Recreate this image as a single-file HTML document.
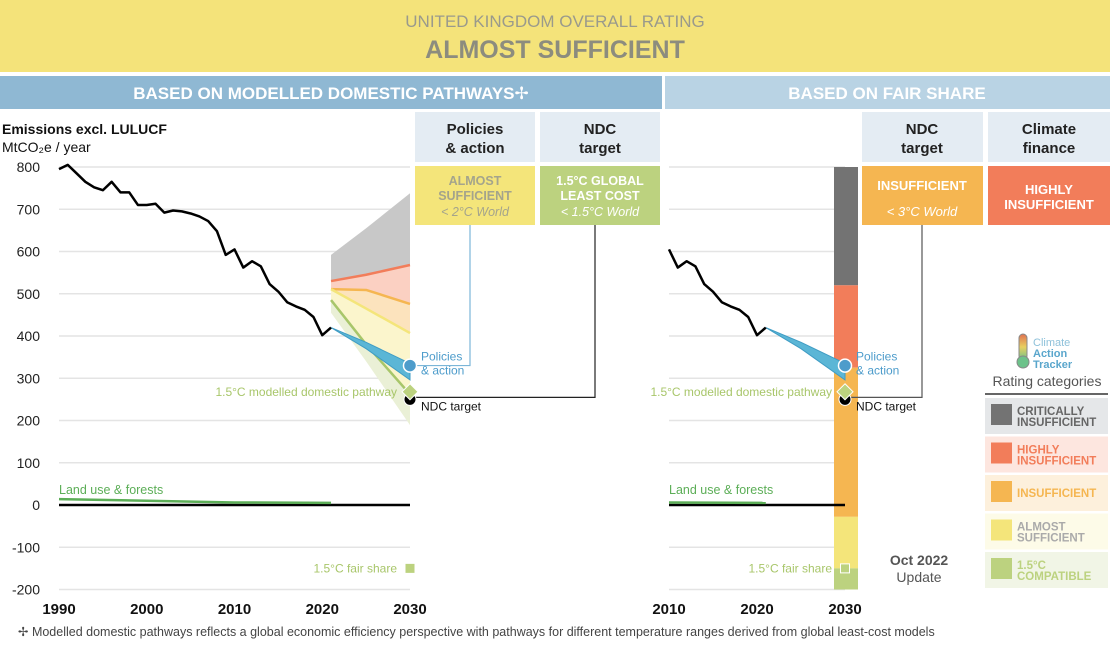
<!DOCTYPE html>
<html><head><meta charset="utf-8"><style>
body{margin:0;width:1110px;height:650px;overflow:hidden;background:#fff;font-family:"Liberation Sans","DejaVu Sans",sans-serif}
svg text{font-family:"Liberation Sans","DejaVu Sans",sans-serif}
</style></head><body>
<svg id="c" width="1110" height="650" xmlns="http://www.w3.org/2000/svg">
<rect x="0" y="0" width="1110" height="72" fill="#f4e37a"/>
<text x="555" y="27" text-anchor="middle" font-size="17" fill="#9a9a8c">UNITED KINGDOM OVERALL RATING</text>
<text x="555" y="58" text-anchor="middle" font-size="25" font-weight="bold" fill="#8c8c7e">ALMOST SUFFICIENT</text>
<rect x="0" y="76" width="662" height="33" fill="#8fb8d3"/>
<text x="331" y="99" text-anchor="middle" font-size="17" font-weight="bold" fill="#fff">BASED ON MODELLED DOMESTIC PATHWAYS✢</text>
<rect x="665" y="76" width="445" height="33" fill="#b9d3e4"/>
<text x="887" y="99" text-anchor="middle" font-size="17" font-weight="bold" fill="#fff">BASED ON FAIR SHARE</text>

<text x="2" y="134" font-size="14" font-weight="bold" fill="#111">Emissions excl. LULUCF</text>
<text x="2" y="152" font-size="14" fill="#111">MtCO₂e / year</text>

<g id="grid"></g><g id="ylab"></g><g id="xlab"></g>
<g id="fills"></g><g id="lines"></g>

<rect x="415" y="112" width="120" height="50" fill="#e4ecf3"/>
<text x="475" y="134" text-anchor="middle" font-size="15" font-weight="bold" fill="#222">Policies</text>
<text x="475" y="153" text-anchor="middle" font-size="15" font-weight="bold" fill="#222">&amp; action</text>
<rect x="415" y="166" width="120" height="59" fill="#f4e57a"/>
<text x="475" y="185" text-anchor="middle" font-size="12.5" font-weight="bold" fill="#a4a48c">ALMOST</text>
<text x="475" y="200" text-anchor="middle" font-size="12.5" font-weight="bold" fill="#a4a48c">SUFFICIENT</text>
<text x="475" y="216" text-anchor="middle" font-size="12.5" font-style="italic" fill="#a4a48c">&lt; 2°C World</text>
<rect x="540" y="112" width="120" height="50" fill="#e4ecf3"/>
<text x="600" y="134" text-anchor="middle" font-size="15" font-weight="bold" fill="#222">NDC</text>
<text x="600" y="153" text-anchor="middle" font-size="15" font-weight="bold" fill="#222">target</text>
<rect x="540" y="166" width="120" height="59" fill="#bcd27f"/>
<text x="600" y="185" text-anchor="middle" font-size="12.5" font-weight="bold" fill="#fff">1.5°C GLOBAL</text>
<text x="600" y="200" text-anchor="middle" font-size="12.5" font-weight="bold" fill="#fff">LEAST COST</text>
<text x="600" y="216" text-anchor="middle" font-size="12.5" font-style="italic" fill="#fff">&lt; 1.5°C World</text>
<rect x="862" y="112" width="121" height="50" fill="#e4ecf3"/>
<text x="922" y="134" text-anchor="middle" font-size="15" font-weight="bold" fill="#222">NDC</text>
<text x="922" y="153" text-anchor="middle" font-size="15" font-weight="bold" fill="#222">target</text>
<rect x="862" y="166" width="121" height="59" fill="#f5b651"/>
<text x="922" y="190" text-anchor="middle" font-size="13" font-weight="bold" fill="#fff">INSUFFICIENT</text>
<text x="922" y="216" text-anchor="middle" font-size="13" font-style="italic" fill="#fff">&lt; 3°C World</text>
<rect x="988" y="112" width="122" height="50" fill="#e4ecf3"/>
<text x="1049" y="134" text-anchor="middle" font-size="15" font-weight="bold" fill="#222">Climate</text>
<text x="1049" y="153" text-anchor="middle" font-size="15" font-weight="bold" fill="#222">finance</text>
<rect x="988" y="166" width="122" height="59" fill="#f27d5a"/>
<text x="1049" y="194" text-anchor="middle" font-size="13" font-weight="bold" fill="#fff">HIGHLY</text>
<text x="1049" y="209" text-anchor="middle" font-size="13" font-weight="bold" fill="#fff">INSUFFICIENT</text>

<g>
<defs><linearGradient id="tg" x1="0" y1="0" x2="0" y2="1"><stop offset="0" stop-color="#e07050"/><stop offset="0.5" stop-color="#e8d060"/><stop offset="1" stop-color="#6cc28a"/></linearGradient></defs>
<rect x="1019" y="334" width="8" height="26" rx="4" fill="url(#tg)" stroke="#888" stroke-width="1"/>
<circle cx="1023" cy="362" r="6" fill="#6cc28a" stroke="#888" stroke-width="1"/>
<text x="1033" y="346" font-size="11" fill="#8ec1da">Climate</text>
<text x="1033" y="357" font-size="11" font-weight="bold" fill="#5aa6cc">Action</text>
<text x="1033" y="368" font-size="11" font-weight="bold" fill="#5aa6cc">Tracker</text>
</g>
<text x="1047" y="386" text-anchor="middle" font-size="14" fill="#555">Rating categories</text>
<rect x="985" y="393" width="123" height="2" fill="#666"/>
<g id="legend"></g>

<text x="919" y="565" text-anchor="middle" font-size="14" font-weight="bold" fill="#555">Oct 2022</text>
<text x="919" y="582" text-anchor="middle" font-size="14" fill="#555">Update</text>
<text x="18" y="636" font-size="12.5" fill="#444">✢  Modelled domestic pathways reflects a global economic efficiency perspective with pathways for different temperature ranges derived from global least-cost models</text>
</svg>
<script>
const years=[1990,1991,1992,1993,1994,1995,1996,1997,1998,1999,2000,2001,2002,2003,2004,2005,2006,2007,2008,2009,2010,2011,2012,2013,2014,2015,2016,2017,2018,2019,2020,2021];
const emissions=[795,805,785,765,752,745,765,740,740,710,710,713,692,697,695,690,683,672,648,592,605,562,577,565,523,505,480,470,462,445,402,420];
const lulucfYears=[1990,2000,2010,2021];
const lulucf=[14,10,6,5];
const projYears=[2021,2025,2030];
const polUpper=[420,385,335];
const polLower=[420,370,296];
const grayTop=[592,655,738];
const redLine=[530,545,568];
const orangeLine=[511,509,476];
const yellowLine=[511,465,407];
const greenLine=[485,380,262];
const greenLower=[455,340,189];
const fairBands=[[800,520,'#737373'],[520,325,'#f27d5a'],[325,-28,'#f5b651'],[-28,-150,'#f4e57a'],[-150,-200,'#bcd27f']];
const yTicks=[800,700,600,500,400,300,200,100,0,-100,-200];
const leftXTicks=[1990,2000,2010,2020,2030];
const rightXTicks=[2010,2020,2030];
const ndc2030=250, pol2030=330, pathway2030=268, fairShare2030=-150;

const NS='http://www.w3.org/2000/svg';
const y=v=>505-v*0.4225;
const xL=t=>59+(t-1990)*8.775;
const xR=t=>669+(t-2010)*8.8;
function el(tag,attrs,parent,text){const e=document.createElementNS(NS,tag);for(const k in attrs)e.setAttribute(k,attrs[k]);if(text!==undefined)e.textContent=text;document.getElementById(parent).appendChild(e);return e;}
yTicks.forEach(v=>{
 let g=el('line',{x1:59,x2:410,y1:y(v),y2:y(v),stroke:'#e4e4e4','stroke-width':1.5},'grid');
 
 
 let g2=el('line',{x1:669,x2:845,y1:y(v),y2:y(v),stroke:'#e4e4e4','stroke-width':1.5},'grid');
 
 
 let t=el('text',{x:40,y:y(v)+5,'text-anchor':'end','font-size':14,fill:'#222'},'ylab',v);
 
 
});
leftXTicks.forEach(v=>{let t=el('text',{x:xL(v),y:614,'text-anchor':'middle','font-size':15,'font-weight':'bold',fill:'#111'},'xlab',v);
 
 });
rightXTicks.forEach(v=>{let t=el('text',{x:xR(v),y:614,'text-anchor':'middle','font-size':15,'font-weight':'bold',fill:'#111'},'xlab',v);
 
 });
fairBands.forEach(b=>{let r=el('rect',{x:834,y:y(b[0]),width:24,height:y(b[1])-y(b[0]),fill:b[2]},'fills');
 
 });
function area(up,lo,fill,name){const pts=projYears.map((t,i)=>xL(t)+','+y(up[i])).concat(projYears.map((t,i)=>xL(t)+','+y(lo[i])).reverse());
 let p=el('polygon',{points:pts.join(' '),fill:fill},'fills');
 
 }
area(grayTop,redLine,'#c8c8c8','critically-insufficient-range');
area(redLine,orangeLine,'#fbd0c2','highly-insufficient-range');
area(orangeLine,yellowLine,'#fce3bd','insufficient-range');
area(yellowLine,greenLine,'#fbf5cc','almost-sufficient-range');
area(greenLine,greenLower,'#eaf0d6','compatible-range');
function pline(xs,vs,fx,col,w,name,parent){let p=el('polyline',{points:xs.map((t,i)=>fx(t)+','+y(vs[i])).join(' '),fill:'none',stroke:col,'stroke-width':w,'stroke-linejoin':'round'},parent||'lines');
 
 }
pline(projYears,redLine,xL,'#f27d5a',2.5,'highly-insufficient-line');
pline(projYears,orangeLine,xL,'#f5b651',2.5,'insufficient-line');
pline(projYears,yellowLine,xL,'#f4e57a',2.5,'almost-sufficient-line');
pline(projYears,greenLine,xL,'#a8c66a',2.5,'pathway-line');
[xL,xR].forEach((fx,k)=>{const pts=projYears.map((t,i)=>fx(t)+','+y(polUpper[i])).concat(projYears.map((t,i)=>fx(t)+','+y(polLower[i])).reverse());
 let p=el('polygon',{points:pts.join(' '),fill:'#5bb6d6',stroke:'#3f9cc4','stroke-width':1},'lines');
 
 });
let z1=el('line',{x1:59,x2:410,y1:y(0),y2:y(0),stroke:'#000','stroke-width':2.5},'lines');

let z2=el('line',{x1:669,x2:845,y1:y(0),y2:y(0),stroke:'#000','stroke-width':2.5},'lines');

pline(lulucfYears,lulucf,xL,'#5cae57',2.5,'lulucf-line-left');
const ry=lulucfYears.filter(t=>t>=2010),rv=lulucf.slice(lulucf.length-ry.length);
pline(ry,rv,xR,'#5cae57',2.5,'lulucf-line-right');
pline(years,emissions,xL,'#000',2.5,'emissions-line-left');
const ey=years.filter(t=>t>=2010),ev=emissions.slice(emissions.length-ey.length);
pline(ey,ev,xR,'#000',2.5,'emissions-line-right');
let c1=el('polyline',{points:`470,225 470,${y(pol2030)} ${xL(2030)},${y(pol2030)}`,fill:'none',stroke:'#7bb6d8','stroke-width':1.2},'lines');

let c2=el('polyline',{points:`595,225 595,${y(ndc2030)-2} ${xL(2030)},${y(ndc2030)-2}`,fill:'none',stroke:'#222','stroke-width':1.2},'lines');

let c3=el('polyline',{points:`922,225 922,${y(ndc2030)-2} ${xR(2030)},${y(ndc2030)-2}`,fill:'none',stroke:'#555','stroke-width':1.2},'lines');

[[xL,410],[xR,845]].forEach(([fx,xx],k)=>{
 const cx=fx(2030);
 let n=el('circle',{cx:cx,cy:y(ndc2030),r:6,fill:'#000',stroke:'#fff','stroke-width':1},'lines');
 
 let d=el('polygon',{points:`${cx},${y(pathway2030)-8} ${cx+8},${y(pathway2030)} ${cx},${y(pathway2030)+8} ${cx-8},${y(pathway2030)}`,fill:'#bcd27f',stroke:'#fff','stroke-width':1},'lines');
 
 let p=el('circle',{cx:cx,cy:y(pol2030),r:6.5,fill:'#4d9ccb',stroke:'#fff','stroke-width':1.5},'lines');
 
 let s=el('rect',{x:cx-4.5,y:y(fairShare2030)-4.5,width:9,height:9,fill:'#bcd27f',stroke:k?'#fff':'none','stroke-width':1},'lines');
 
 const lx=cx+11;
 let t1=el('text',{x:lx,y:y(pol2030)-5,'font-size':12,fill:'#4d9ccb'},'lines','Policies');
 
 el('text',{x:lx,y:y(pol2030)+9,'font-size':12,fill:'#4d9ccb'},'lines','& action');
 let t2=el('text',{x:lx,y:y(ndc2030)+11,'font-size':12,fill:'#111'},'lines','NDC target');
 
 let t3=el('text',{x:cx-13,y:y(pathway2030)+4,'font-size':12,fill:'#a8c66a','text-anchor':'end'},'lines','1.5°C modelled domestic pathway');
 
 let t4=el('text',{x:cx-13,y:y(fairShare2030)+4,'font-size':12,fill:'#a8c66a','text-anchor':'end'},'lines','1.5°C fair share');
 
 let t5=el('text',{x:k?669:59,y:494,'font-size':12.5,fill:'#5cae57'},'lines','Land use & forests');
 
});
const legCats=[['CRITICALLY','INSUFFICIENT','#737373','#e5e7e9','#666'],['HIGHLY','INSUFFICIENT','#f27d5a','#fde6df','#f27d5a'],['INSUFFICIENT','','#f5b651','#fdf0dc','#f5b651'],['ALMOST','SUFFICIENT','#f4e57a','#fdfbe8','#aaa'],['1.5°C','COMPATIBLE','#bcd27f','#f1f5e6','#bcd27f']];
legCats.forEach((c,i)=>{const y0=398+i*38.5;
 let r=el('rect',{x:985,y:y0,width:123,height:36,fill:c[3]},'legend');
 
 el('rect',{x:991,y:y0+6,width:21,height:21,fill:c[2]},'legend');
 if(c[1]){el('text',{x:1017,y:y0+17,'font-size':11.5,'font-weight':'bold',fill:c[4]},'legend',c[0]);
  el('text',{x:1017,y:y0+28,'font-size':11.5,'font-weight':'bold',fill:c[4]},'legend',c[1]);}
 else el('text',{x:1017,y:y0+22,'font-size':11.5,'font-weight':'bold',fill:c[4]},'legend',c[0]);
});
</script>
</body></html>
